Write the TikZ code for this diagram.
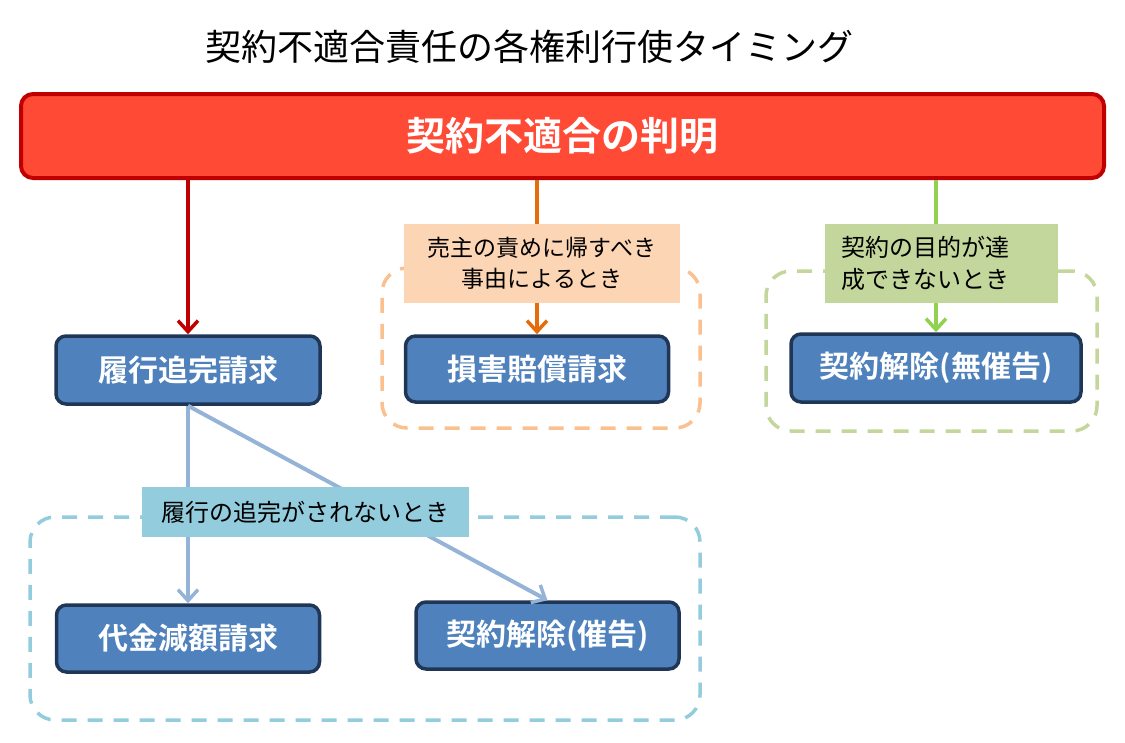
\documentclass[tikz,border=0pt]{standalone}
\usepackage{fontspec}
\newfontfamily\jp{Noto Sans CJK JP}[BoldFont={Noto Sans CJK JP Bold}]
\usetikzlibrary{arrows.meta}
\definecolor{redfill}{HTML}{FF4A36}
\definecolor{redline}{HTML}{C00000}
\definecolor{bluefill}{HTML}{4F81BD}
\definecolor{blueline}{HTML}{1F3656}
\definecolor{orarrow}{HTML}{E46C0A}
\definecolor{orlabel}{HTML}{FCD5B5}
\definecolor{ordash}{HTML}{FAC090}
\definecolor{grarrow}{HTML}{92D050}
\definecolor{grlabel}{HTML}{C3D69B}
\definecolor{lbarrow}{HTML}{95B3D7}
\definecolor{lblabel}{HTML}{93CDDD}
\tikzset{
  bluebox/.style={draw=blueline, fill=bluefill, line width=3.5pt, rounded corners=10pt,
    text=white, font=\jp\bfseries\fontsize{30}{34}\selectfont, inner sep=0pt},
  lbl/.style={inner sep=0pt, text=black, font=\jp\fontsize{23}{31}\selectfont, align=left},
  grp/.style={dash pattern=on 15pt off 11pt, line width=3.5pt, rounded corners=25pt, inner sep=0pt},
  arr/.style={line width=4pt, -{Straight Barb[length=11pt,width=20pt,line width=3.5pt]}},
}
\begin{document}
\begin{tikzpicture}[x=1pt,y=-1pt]
\useasboundingbox (0,0) rectangle (1125,742);
% title
\node[font=\jp\fontsize{36}{40}\selectfont] (title) at (529,47) {契約不適合責任の各権利行使タイミング};
% top red box
\node[draw=redline, fill=redfill, line width=4pt, rounded corners=12pt,
  minimum width=1083pt, minimum height=84pt, inner sep=0pt,
  text=white, font=\jp\bfseries\fontsize{39}{42}\selectfont] (red) at (562.5,136) {契約不適合の判明};
% dashed groups
\node[grp, draw=ordash, minimum width=318pt, minimum height=160pt] (gor) at (541,348) {};
\node[grp, draw=grlabel, minimum width=331pt, minimum height=160pt] (ggr) at (931.5,351) {};
\node[grp, draw=lblabel, minimum width=670pt, minimum height=203pt] (glb) at (365,618.5) {};
% blue boxes
\node[bluebox, minimum width=264pt, minimum height=68pt] (ryoko) at (188,370) {履行追完請求};
\node[bluebox, minimum width=263pt, minimum height=66pt] (songai) at (537,369) {損害賠償請求};
\node[bluebox, minimum width=290pt, minimum height=68pt] (kaijo1) at (936,368) {契約解除(無催告)};
\node[bluebox, minimum width=263pt, minimum height=67pt] (daikin) at (188,638.5) {代金減額請求};
\node[bluebox, minimum width=263pt, minimum height=67pt] (kaijo2) at (547.5,635.5) {契約解除(催告)};
% arrows
\draw[arr, draw=redline] (ryoko |- red.south) -- (ryoko.north);
\draw[arr, draw=orarrow] (songai |- red.south) -- (songai.north);
\draw[arr, draw=grarrow] (kaijo1 |- red.south) -- (kaijo1.north);
\draw[arr, draw=lbarrow] (ryoko.south) -- (daikin.north);
\draw[arr, draw=lbarrow] (ryoko.south) -- (kaijo2.north);
% labels
\node[lbl, fill=orlabel, minimum width=276pt, minimum height=79pt, align=center] (lor) at (542,263.5) {売主の責めに帰すべき\\事由によるとき};
\node[lbl, fill=grlabel, minimum width=233pt, minimum height=79pt, text width=201pt, font=\jp\fontsize{24}{32}\selectfont] (lgr) at (941.5,263.5) {契約の目的が達\\成できないとき};
\node[lbl, fill=lblabel, minimum width=327pt, minimum height=50pt, align=center, font=\jp\fontsize{24}{28}\selectfont] (llb) at (305.5,512) {履行の追完がされないとき};
\end{tikzpicture}
\end{document}
